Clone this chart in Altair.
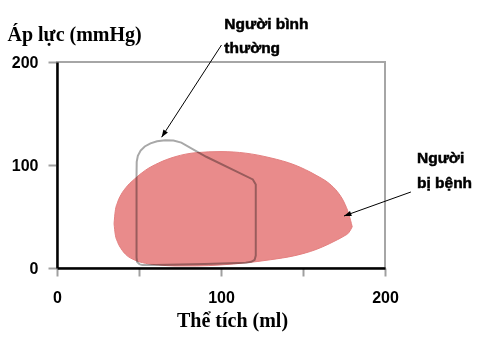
import altair as alt
import pandas as pd

# Diseased heart PV loop (filled blob): volume, upper and lower pressure
sick_vol = [34.8, 35.5, 37, 39, 42, 47, 54, 62, 72, 85, 100, 115, 130, 145, 158, 166, 171, 175, 178, 180]
sick_upper = [43, 55, 64, 71, 78, 86, 95, 102, 108, 112, 113, 111.5, 107, 100, 90, 82, 74, 64, 52, 40]
sick_lower = [43, 33, 25, 19, 13, 8, 4.5, 3, 2, 2, 3, 5, 8, 12, 18, 23.5, 27.5, 31, 34.5, 40]

# Normal heart PV loop (outline), in drawing order
norm_vol = [50.5, 48.8, 48.5, 48.5, 48.5, 48.6, 49.3, 51, 53.5, 57, 61, 66, 71, 75.8,
            91, 119.4, 121.2, 121.2, 120.5, 118.5, 115, 90, 60, 52, 50.5]
norm_p = [3.5, 6, 10, 50, 90, 103, 109, 114, 118, 121, 123, 124, 123.8, 121.7,
          108, 86, 81, 12, 8, 6, 5.2, 4, 3, 3, 3.5]

# Annotation texts
ann_text = ["Người bình", "thường", "Người", "bị bệnh"]
ann_vol = [102, 102, 219.5, 219.5]
ann_p = [232, 209, 102, 78]

# Arrows: start and end points (data units)
arr_v1 = [100.3, 215.8]
arr_p1 = [216.5, 73.8]
arr_v2 = [63.8, 175]
arr_p2 = [127, 50.5]
arr_angle = [213, 250]

x_ticks = [0, 50, 100, 150, 200]
y_ticks = [0, 100, 200]

sick = pd.DataFrame({"v": sick_vol, "hi": sick_upper, "lo": sick_lower})
norm = pd.DataFrame({"v": norm_vol, "p": norm_p, "o": list(range(len(norm_vol)))})
ann = pd.DataFrame({"t": ann_text, "v": ann_vol, "p": ann_p})
arr = pd.DataFrame({"v1": arr_v1, "p1": arr_p1, "v2": arr_v2, "p2": arr_p2, "a": arr_angle})

xs = alt.Scale(domain=[0, 200], nice=False, zero=False)
ys = alt.Scale(domain=[0, 200], nice=False, zero=False)

SANS = "Liberation Sans"

x_axis = alt.Axis(
    values=x_ticks,
    labelExpr="datum.value % 100 == 0 ? datum.label : ''",
    title="Thể tích (ml)",
    titleFont="Liberation Serif", titleFontSize=20, titleFontWeight="bold", titleColor="black",
    titleX=175, titleY=58, titleAlign="center", titleBaseline="alphabetic",
    labelFont=SANS, labelFontSize=16, labelFontWeight="bold", labelColor="black",
    labelPadding=13, tickSize=8, tickColor="#a0a0a0", tickWidth=2,
    domainColor="black", domainWidth=2.5, grid=False, labelFlush=False,
)
y_axis = alt.Axis(
    values=y_ticks,
    title="Áp lực (mmHg)",
    titleFont="Liberation Serif", titleFontSize=20, titleFontWeight="bold", titleColor="black",
    titleAngle=0, titleAlign="left", titleBaseline="alphabetic", titleX=-50, titleY=-22,
    labelFont=SANS, labelFontSize=16, labelFontWeight="bold", labelColor="black",
    labelPadding=10, tickSize=9, tickColor="#a0a0a0", tickWidth=2,
    domainColor="black", domainWidth=2.5, grid=False, labelFlush=False,
)

blob = alt.Chart(sick).mark_area(
    color="#E98B8B", interpolate="monotone", stroke="#E48080", strokeWidth=1
).encode(
    x=alt.X("v:Q", scale=xs, axis=x_axis),
    y=alt.Y("hi:Q", scale=ys, axis=y_axis),
    y2="lo:Q",
)

loop = alt.Chart(norm).mark_line(
    color="#a8a8a8", strokeWidth=2, interpolate="linear", blend="multiply"
).encode(
    x=alt.X("v:Q", scale=xs),
    y=alt.Y("p:Q", scale=ys),
    order="o:Q",
)

arrow_lines = alt.Chart(arr).mark_rule(color="black", strokeWidth=1, clip=False).encode(
    x=alt.X("v1:Q", scale=xs), y=alt.Y("p1:Q", scale=ys), x2="v2:Q", y2="p2:Q"
)
arrow_heads = alt.Chart(arr).mark_point(
    shape="M0,0L-0.4,1.1L0.4,1.1Z", filled=True, color="black", size=180, opacity=1, clip=False
).encode(
    x=alt.X("v2:Q", scale=xs), y=alt.Y("p2:Q", scale=ys), angle=alt.Angle("a:Q", scale=None)
)

labels = alt.Chart(ann).mark_text(
    align="left", baseline="alphabetic", font=SANS, fontSize=15.5, fontWeight="bold",
    color="black", stroke="black", strokeWidth=0.5, clip=False
).encode(
    x=alt.X("v:Q", scale=xs), y=alt.Y("p:Q", scale=ys), text="t:N"
)

chart = alt.layer(blob, loop, arrow_lines, arrow_heads, labels).properties(
    width=328, height=206,
    padding={"left": 57, "top": 62, "right": 104, "bottom": 70},
    autosize=alt.AutoSizeParams(type="none"),
    background="white",
).configure_view(stroke="#a6a6a6", strokeWidth=2)

chart.save("out.html", embed_options={"renderer": "svg", "actions": False})
